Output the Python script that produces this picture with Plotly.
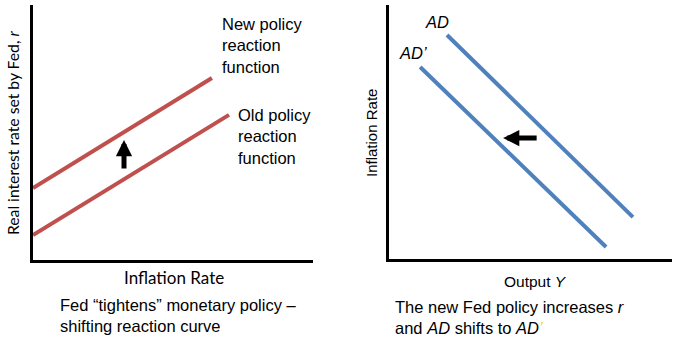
import plotly.graph_objects as go

W, H = 680, 337

# Left panel: policy reaction functions (inflation on x, real rate on y)
new_policy_x = [0.0, 6.39]
new_policy_y = [2.82, 7.14]
old_policy_x = [0.0, 7.0]
old_policy_y = [0.98, 5.69]
shift_up_x = 3.25
shift_up_from = 3.53
shift_up_to = 4.71

# Right panel: AD curves (output on x, inflation on y)
ad_x = [2.05, 8.62]
ad_y = [8.82, 1.65]
ad2_x = [1.10, 7.67]
ad2_y = [7.56, 0.47]
shift_left_y = 4.76
shift_left_from = 5.27
shift_left_to = 4.03

RED = "#C0504D"
BLUE = "#4F81BD"
ARIAL = "Liberation Sans, Arial, sans-serif"
CALIBRI = "Lato, Carlito, Calibri, sans-serif"


def px(x):
    return x / W


def py(y):
    return 1 - y / H


fig = go.Figure()
fig.add_trace(go.Scatter(x=new_policy_x, y=new_policy_y, mode="lines",
                         line=dict(color=RED, width=4), xaxis="x", yaxis="y",
                         showlegend=False, hoverinfo="skip"))
fig.add_trace(go.Scatter(x=old_policy_x, y=old_policy_y, mode="lines",
                         line=dict(color=RED, width=4), xaxis="x", yaxis="y",
                         showlegend=False, hoverinfo="skip"))
fig.add_trace(go.Scatter(x=ad_x, y=ad_y, mode="lines",
                         line=dict(color=BLUE, width=4), xaxis="x2", yaxis="y2",
                         showlegend=False, hoverinfo="skip"))
fig.add_trace(go.Scatter(x=ad2_x, y=ad2_y, mode="lines",
                         line=dict(color=BLUE, width=4), xaxis="x2", yaxis="y2",
                         showlegend=False, hoverinfo="skip"))

ax_common = dict(range=[0, 10], showline=True, linecolor="black", linewidth=3,
                 showgrid=False, zeroline=False, showticklabels=False, ticks="",
                 fixedrange=True)

fig.update_layout(
    width=W, height=H,
    margin=dict(l=0, r=0, t=0, b=0),
    paper_bgcolor="white", plot_bgcolor="white",
    xaxis=dict(domain=[px(33), px(313)], anchor="y", **ax_common),
    yaxis=dict(domain=[py(260), py(5)], anchor="x", **ax_common),
    xaxis2=dict(domain=[px(389), px(672)], anchor="y2", **ax_common),
    yaxis2=dict(domain=[py(259), py(5)], anchor="x2", **ax_common),
)

ann = []


def text(x, y, s, size=16.5, family=ARIAL, xanchor="center", align="center", angle=0):
    ann.append(dict(x=px(x), y=py(y), xref="paper", yref="paper", text=s,
                    showarrow=False, xanchor=xanchor, yanchor="middle",
                    align=align, textangle=angle,
                    font=dict(size=size, family=family, color="black")))


text(220, 45.5, "New policy<br>reaction<br>function", xanchor="left", align="left")
text(236, 137, "Old policy<br>reaction<br>function", xanchor="left", align="left")
text(174, 277, "Inflation Rate", size=17, family=CALIBRI)
text(13, 133, "Real interest rate set by Fed, <i>r</i>", size=15.7, family=CALIBRI, angle=-90)
text(58, 315, "Fed “tightens” monetary policy –<br>shifting reaction curve",
     xanchor="left", align="left")

text(437, 22, "<i>AD</i>")
text(413, 53, "<i>AD’</i>")
text(371, 133, "Inflation Rate", size=15, angle=-90)
text(535, 281, "Output <i>Y</i>", size=15.5)
text(393, 317.5, "The new Fed policy increases <i>r</i><br>and <i>AD</i> shifts to <i>AD</i>"
     "<span style='color:#F5E000'><i>’</i></span>", size=16.5, xanchor="left", align="left")

# Shift arrows
ann.append(dict(x=shift_up_x, y=shift_up_to, ax=shift_up_x, ay=shift_up_from,
                xref="x", yref="y", axref="x", ayref="y", text="", showarrow=True,
                arrowhead=2, arrowsize=0.65, arrowwidth=5, arrowcolor="black"))
ann.append(dict(x=shift_left_to, y=shift_left_y, ax=shift_left_from, ay=shift_left_y,
                xref="x2", yref="y2", axref="x2", ayref="y2", text="", showarrow=True,
                arrowhead=2, arrowsize=0.65, arrowwidth=5, arrowcolor="black"))

fig.update_layout(annotations=ann)
fig.write_html("out.html")
